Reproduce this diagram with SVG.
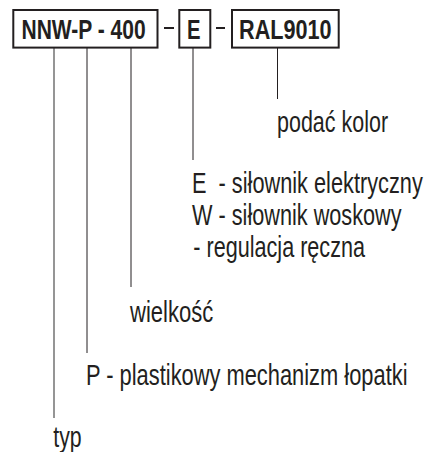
<svg xmlns="http://www.w3.org/2000/svg" width="427" height="452" viewBox="0 0 427 452">
<style>
.box{fill:#fff;stroke:#231f20;stroke-width:2}
.b{font-family:"Liberation Sans",Arial,sans-serif;font-weight:bold;font-size:27px;fill:#231f20}
.t{font-family:"Liberation Sans",Arial,sans-serif;font-size:29px;fill:#231f20}
.ln{stroke:#231f20;stroke-width:1;fill:none}
.dash{stroke:#231f20;stroke-width:2}
</style>
<rect width="427" height="452" fill="#fff"/>
<g id="connectors">
<line class="ln" x1="54" y1="48" x2="54" y2="418" style="stroke:#8a8a8a;stroke-width:1.8"/>
<line class="ln" x1="87" y1="48" x2="87" y2="353"/>
<line class="ln" x1="131" y1="48" x2="131" y2="287"/>
<line class="ln" x1="193" y1="48" x2="193" y2="160"/>
<line class="ln" x1="277.5" y1="48" x2="277.5" y2="99"/>
<line class="dash" x1="164" y1="28" x2="174" y2="28"/>
<line class="dash" x1="216" y1="28" x2="225" y2="28"/>
</g>
<g id="code-main">
<rect class="box" x="13.3" y="10" width="144.2" height="37.6"/>
<text class="b" transform="translate(21.5,39.3) scale(0.779,1)">NNW-P - 400</text>
</g>
<g id="code-E">
<rect class="box" x="179.3" y="10" width="31" height="37.6"/>
<text class="b" transform="translate(187,39.3) scale(0.751,1)">E</text>
</g>
<g id="code-RAL">
<rect class="box" x="232" y="10" width="106.7" height="37.6"/>
<text class="b" transform="translate(239,39.3) scale(0.802,1)">RAL9010</text>
</g>
<g id="label-color">
<text class="t" transform="translate(277,131.5) scale(0.741,1)">podać kolor</text>
</g>
<g id="label-actuator">
<text class="t" transform="translate(192,193.3) scale(0.750,1)" xml:space="preserve">E  - siłownik elektryczny</text>
<text class="t" transform="translate(192,225.3) scale(0.748,1)">W - siłownik woskowy</text>
<text class="t" transform="translate(193.3,257) scale(0.745,1)">- regulacja ręczna</text>
</g>
<g id="label-size">
<text class="t" transform="translate(130,321.7) scale(0.760,1)">wielkość</text>
</g>
<g id="label-mechanism">
<text class="t" transform="translate(86,385) scale(0.754,1)">P - plastikowy mechanizm łopatki</text>
</g>
<g id="label-type">
<text class="t" transform="translate(53.3,446.7) scale(0.734,1)">typ</text>
</g>
</svg>
